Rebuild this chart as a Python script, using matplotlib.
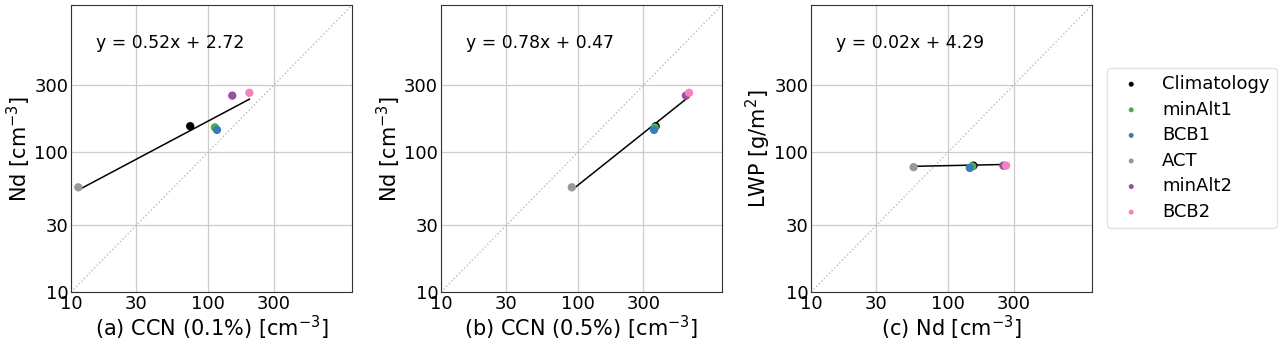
import numpy as np
import matplotlib.pyplot as plt

names = ['Climatology', 'minAlt1', 'BCB1', 'ACT', 'minAlt2', 'BCB2']
colors = ['black', '#4daf4a', '#377eb8', '#999999', '#984ea3', '#f781bf']

ccn01 = [74, 112, 116, 11.3, 150, 200]
ccn05 = [368, 362, 358, 90, 612, 645]
nd = [153, 150, 144, 56, 253, 265]
lwp = [80, 79, 77, 78, 80, 80]

# fit lines in ln space: y = a*ln(x) + b
slopes = [0.52, 0.78, 0.02]
intercepts = [2.72, 0.47, 4.29]

panels = [
    (ccn01, nd, '(a) CCN (0.1%) [cm$^{-3}$]', 'Nd [cm$^{-3}$]'),
    (ccn05, nd, '(b) CCN (0.5%) [cm$^{-3}$]', 'Nd [cm$^{-3}$]'),
    (nd, lwp, '(c) Nd [cm$^{-3}$]', 'LWP [g/m$^2$]'),
]

ticks = [10, 30, 100, 300]
lims = (10, 1120)

fig = plt.figure(figsize=(12.8, 3.44), dpi=100)
lefts = [0.0555, 0.3445, 0.6336]
for i, (xs, ys, xl, yl) in enumerate(panels):
    ax = fig.add_axes([lefts[i], 0.151, 0.2195, 0.834])
    ax.plot(lims, lims, ls=':', color='#bbbbbb', lw=1, zorder=1)
    for x, y, n, c in zip(xs, ys, names, colors):
        ax.scatter(x, y, color=c, s=36, label=n, zorder=3, edgecolors='none')
    xx = np.linspace(min(xs), max(xs), 50)
    ax.plot(xx, np.exp(slopes[i] * np.log(xx) + intercepts[i]), color='black', lw=1.1, zorder=2)
    ax.text(15.3, 600, f'y = {slopes[i]:.2f}x + {intercepts[i]:.2f}', fontsize=12.4, va='center')
    ax.set_xscale('log')
    ax.set_yscale('log')
    ax.set_xlim(lims)
    ax.set_ylim(lims)
    ax.set_xticks(ticks)
    ax.set_xticklabels([str(t) for t in ticks])
    ax.set_yticks(ticks)
    ax.set_yticklabels([str(t) for t in ticks])
    ax.minorticks_off()
    ax.tick_params(length=0, labelsize=13, pad=2)
    ax.grid(True, color='#cccccc', lw=0.9)
    ax.set_axisbelow(True)
    ax.set_xlabel(xl, fontsize=15, labelpad=1)
    ax.set_ylabel(yl, fontsize=15, labelpad=1)
    for s in ax.spines.values():
        s.set_color('#333333')

handles, labels = ax.get_legend_handles_labels()
fig.legend(handles, labels, loc='center left', bbox_to_anchor=(0.865, 0.570), fontsize=13,
           markerscale=0.6, frameon=True, edgecolor='#dddddd', borderaxespad=0,
           borderpad=0.4, handlelength=1.86, handletextpad=0.79, labelspacing=0.42)

fig.savefig('out.png', dpi=100)
